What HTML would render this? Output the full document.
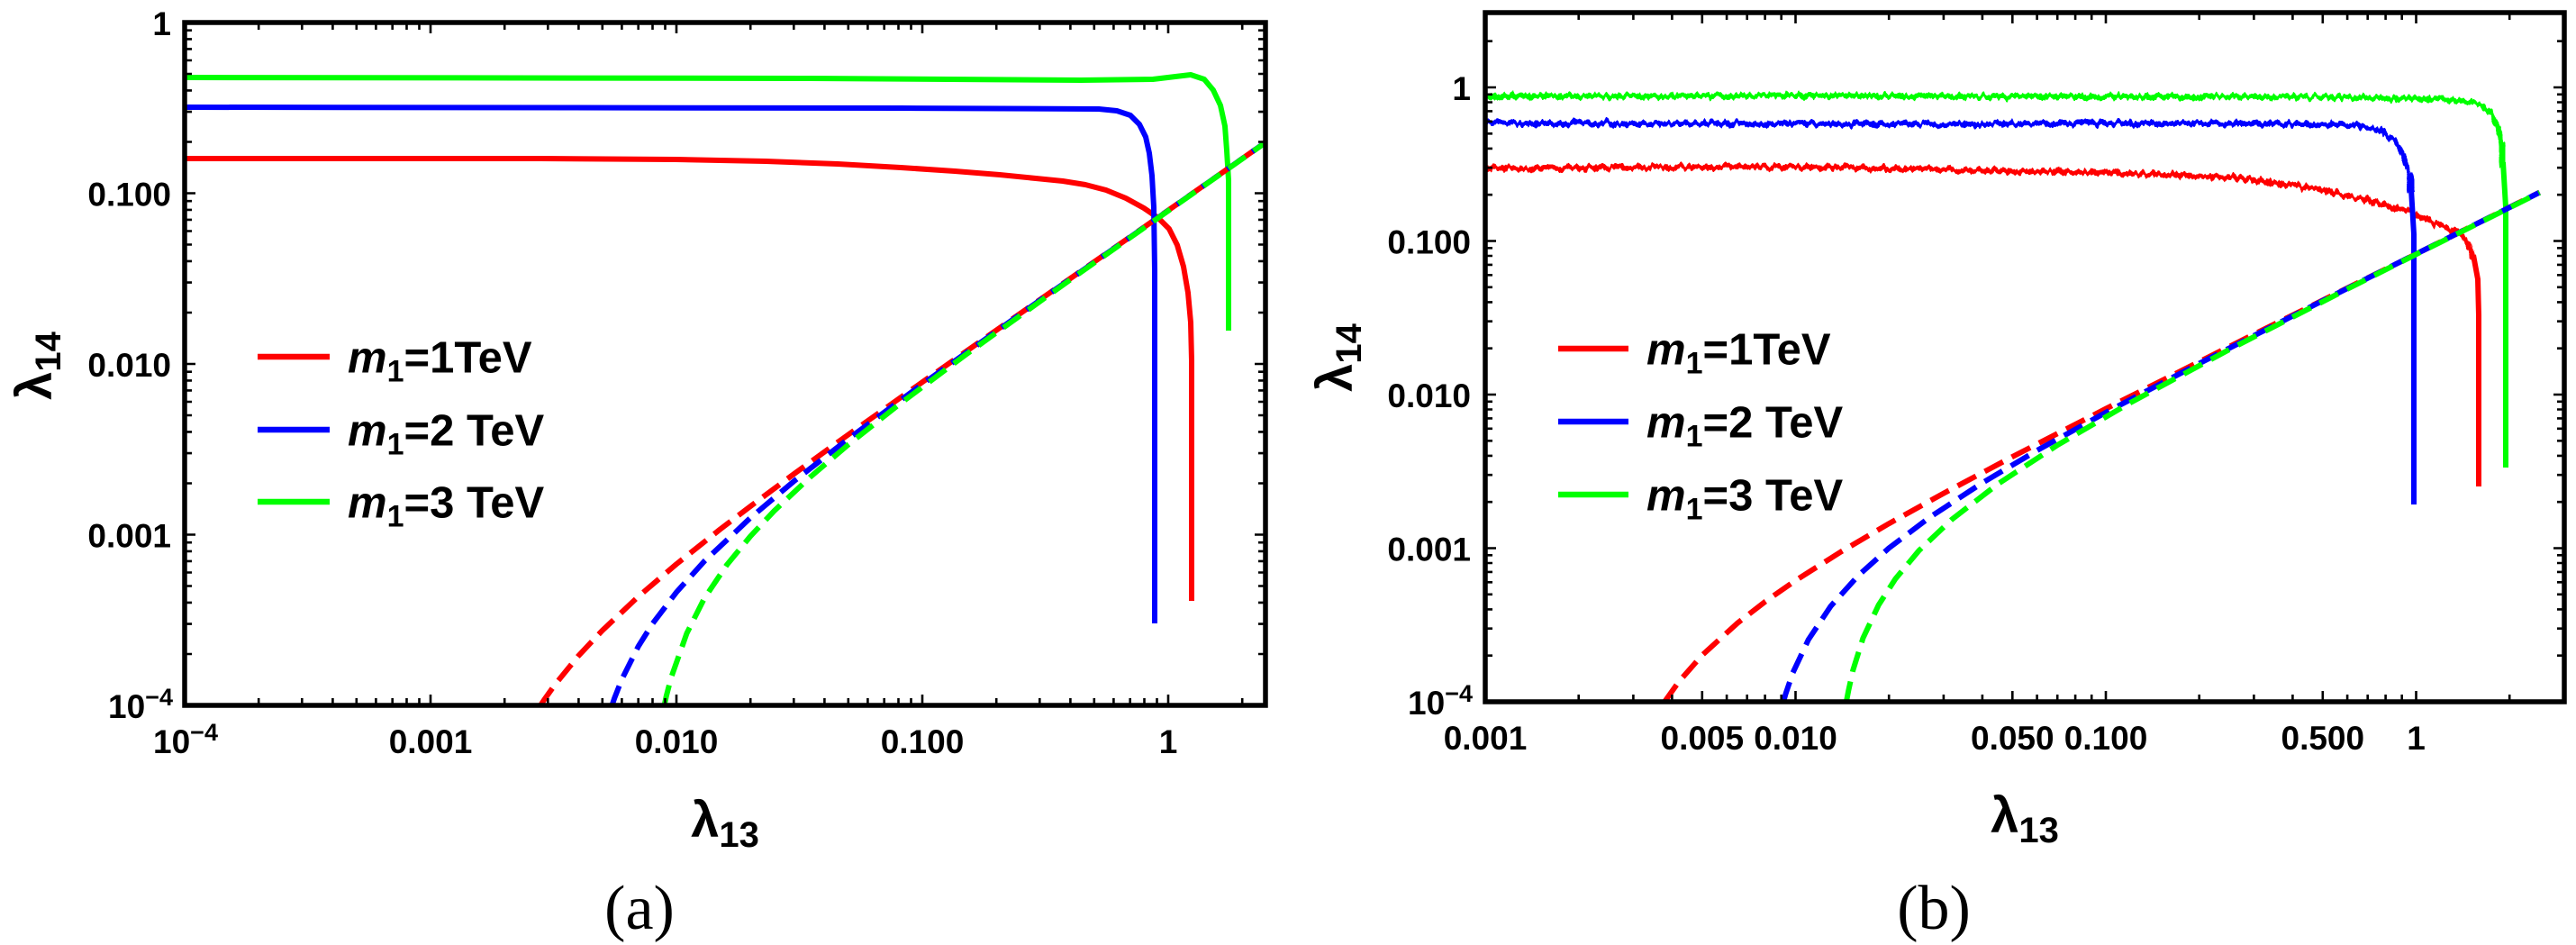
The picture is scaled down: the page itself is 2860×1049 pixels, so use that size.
<!DOCTYPE html>
<html>
<head>
<meta charset="utf-8">
<style>
html,body{margin:0;padding:0;background:#fff;}
svg{display:block;}
text{font-family:"Liberation Sans",Arial,sans-serif;font-weight:bold;fill:#000;}
.serif{font-family:"Liberation Serif","Times New Roman",serif;font-weight:normal;}
</style>
</head>
<body>
<svg xmlns="http://www.w3.org/2000/svg" xmlns:xlink="http://www.w3.org/1999/xlink" width="2860" height="1049" viewBox="0 0 2860 1049">
<defs>
  <clipPath id="clipL"><rect x="205" y="25" width="1200" height="758"/></clipPath>
  <clipPath id="clipR"><rect x="1649" y="14" width="1198" height="765"/></clipPath>
  <filter id="jit" filterUnits="userSpaceOnUse" x="1640" y="80" width="1190" height="240">
    <feTurbulence type="fractalNoise" baseFrequency="0.22 0.04" numOctaves="2" seed="7" result="t"/>
    <feDisplacementMap in="SourceGraphic" in2="t" scale="10" xChannelSelector="R" yChannelSelector="G"/>
  </filter>

  <path id="lxt" stroke="#000" stroke-width="2.6" fill="none" d="
    M478,783v-12 M751,783v-12 M1024,783v-12 M1297,783v-12
    M287.2,783v-8 M335.3,783v-8 M369.4,783v-8 M395.8,783v-8 M417.4,783v-8 M435.7,783v-8 M451.5,783v-8 M465.5,783v-8
    M560.2,783v-8 M608.3,783v-8 M642.4,783v-8 M668.8,783v-8 M690.4,783v-8 M708.7,783v-8 M724.5,783v-8 M738.5,783v-8
    M833.2,783v-8 M881.3,783v-8 M915.4,783v-8 M941.8,783v-8 M963.4,783v-8 M981.7,783v-8 M997.5,783v-8 M1011.5,783v-8
    M1106.2,783v-8 M1154.3,783v-8 M1188.4,783v-8 M1214.8,783v-8 M1236.4,783v-8 M1254.7,783v-8 M1270.5,783v-8 M1284.5,783v-8
    M1379.2,783v-8"/>
  <path id="lyt" stroke="#000" stroke-width="2.6" fill="none" d="
    M205,593.5h12 M205,404h12 M205,214.5h12
    M205,726h8 M205,692.6h8 M205,668.9h8 M205,650.5h8 M205,635.5h8 M205,622.9h8 M205,611.9h8 M205,602.2h8
    M205,536.5h8 M205,503.1h8 M205,479.4h8 M205,461h8 M205,446h8 M205,433.4h8 M205,422.4h8 M205,412.7h8
    M205,347h8 M205,313.6h8 M205,289.9h8 M205,271.5h8 M205,256.5h8 M205,243.9h8 M205,232.9h8 M205,223.2h8
    M205,157.5h8 M205,124.1h8 M205,100.4h8 M205,82h8 M205,67h8 M205,54.4h8 M205,43.4h8 M205,33.7h8"/>

  <path id="rxt" stroke="#000" stroke-width="2.6" fill="none" d="
    M1889.8,779v-12 M1993.5,779v-12 M2234.3,779v-12 M2338,779v-12 M2578.8,779v-12 M2682.5,779v-12
    M1752.7,779v-8 M1813.4,779v-8 M1856.4,779v-8 M1917.1,779v-8 M1939.7,779v-8 M1959.6,779v-8 M1977.7,779v-8
    M2097.2,779v-8 M2157.9,779v-8 M2200.9,779v-8 M2261.6,779v-8 M2284.2,779v-8 M2304.1,779v-8 M2322.2,779v-8
    M2441.7,779v-8 M2502.4,779v-8 M2545.4,779v-8 M2606.1,779v-8 M2628.7,779v-8 M2648.6,779v-8 M2666.7,779v-8
    M2786.2,779v-8"/>
  <path id="ryt" stroke="#000" stroke-width="2.6" fill="none" d="
    M1649,608.5h12 M1649,438h12 M1649,267.5h12 M1649,97h12
    M1649,727.7h8 M1649,697.7h8 M1649,676.4h8 M1649,659.8h8 M1649,646.3h8 M1649,634.9h8 M1649,625h8 M1649,616.3h8
    M1649,557.2h8 M1649,527.2h8 M1649,505.9h8 M1649,489.3h8 M1649,475.8h8 M1649,464.4h8 M1649,454.5h8 M1649,445.8h8
    M1649,386.7h8 M1649,356.7h8 M1649,335.4h8 M1649,318.8h8 M1649,305.3h8 M1649,293.9h8 M1649,284h8 M1649,275.3h8
    M1649,216.2h8 M1649,186.2h8 M1649,164.9h8 M1649,148.3h8 M1649,134.8h8 M1649,123.4h8 M1649,113.5h8 M1649,104.8h8
    M1649,45.7h8"/>
</defs>

<rect x="0" y="0" width="2860" height="1049" fill="#fff"/>

<!-- ================= LEFT PLOT ================= -->
<g clip-path="url(#clipL)" fill="none" stroke-width="6" stroke-linejoin="round">
  <path stroke="#ff0000" d="M205,176 L600,176 L750,177 L850,179 L930,182 L1000,186 L1060,190 L1110,194 L1150,198 L1180,201 L1205,205 L1228,211 L1250,220 L1270,231 L1286,242 L1298,254 L1307,272 L1314,296 L1319,325 L1322,358 L1323,400 L1323,667"/>
  <path stroke="#0000ff" d="M205,119 L1000,120 L1220,121 L1240,123 L1255,128 L1265,138 L1272,152 L1276,170 L1279,195 L1281,230 L1282,300 L1282,692"/>
  <path stroke="#00ff00" d="M205,86 L900,87 L1200,89 L1280,88 L1305,85 L1322,83 L1337,88 L1347,100 L1355,117 L1360,140 L1362,167 L1364,200 L1364,367"/>
  <g stroke-dasharray="23 11">
    <path stroke="#ff0000" d="M600.1,783 L604.2,776.7 L615.9,760.3 L642.3,727.9 L668.8,699.8 L708.7,662.2 L751,626.2 L799.1,587.9 L833.2,562 L881.2,526.3 L941.8,482.5 L1024,424.2 L1154.2,332.9 L1297,233.5 L1405.1,158"/>
    <path stroke="#0000ff" d="M679.5,783 L682.2,775 L690.4,754.1 L708.7,717.5 L724.5,692.3 L751,657.4 L782,623 L833.2,574.8 L881.2,534.4 L941.8,487.2 L1024,426.4 L1154.2,333.6 L1297,233.7 L1405.1,158"/>
    <path stroke="#00ff00" d="M737.6,783 L739.8,772.6 L745.1,752.3 L762.5,703 L782,664.2 L806.7,627.4 L833.2,595.2 L859.6,567.1 L899.5,529.6 L941.8,493.6 L997.5,449.5 L1072.1,393.8 L1188.4,310.4 L1297,234 L1405.1,158.2"/>
  </g>
</g>

<use href="#lxt" xlink:href="#lxt"/>
<use href="#lxt" xlink:href="#lxt" transform="translate(0,808) scale(1,-1)"/>
<use href="#lyt" xlink:href="#lyt"/>
<use href="#lyt" xlink:href="#lyt" transform="translate(1610,0) scale(-1,1)"/>
<rect x="205" y="25" width="1200" height="758" fill="none" stroke="#000" stroke-width="5.5"/>

<g stroke-width="6.5">
  <line x1="286" y1="396" x2="366" y2="396" stroke="#ff0000"/>
  <line x1="286" y1="477" x2="366" y2="477" stroke="#0000ff"/>
  <line x1="286" y1="557" x2="366" y2="557" stroke="#00ff00"/>
</g>
<g font-size="49">
  <text x="386" y="413.5"><tspan font-style="italic">m</tspan><tspan font-size="34" dy="10">1</tspan><tspan dy="-10">=1TeV</tspan></text>
  <text x="386" y="494.5"><tspan font-style="italic">m</tspan><tspan font-size="34" dy="10">1</tspan><tspan dy="-10">=2 TeV</tspan></text>
  <text x="386" y="574.5"><tspan font-style="italic">m</tspan><tspan font-size="34" dy="10">1</tspan><tspan dy="-10">=3 TeV</tspan></text>
</g>

<g font-size="37" text-anchor="end">
  <text x="190" y="39">1</text>
  <text x="190" y="228.5">0.100</text>
  <text x="190" y="418">0.010</text>
  <text x="190" y="607.5">0.001</text>
  <text x="192" y="797">10<tspan font-size="27" dy="-14">−4</tspan></text>
</g>
<g font-size="37" text-anchor="middle">
  <text x="206" y="836">10<tspan font-size="27" dy="-14">−4</tspan></text>
  <text x="478" y="836">0.001</text>
  <text x="751" y="836">0.010</text>
  <text x="1024" y="836">0.100</text>
  <text x="1297" y="836">1</text>
</g>

<text x="805" y="929" font-size="56" text-anchor="middle">λ<tspan font-size="40" dy="11">13</tspan></text>
<text transform="translate(57,406) rotate(-90)" font-size="56" text-anchor="middle">λ<tspan font-size="40" dy="10">14</tspan></text>
<text class="serif" x="710" y="1031" font-size="70" text-anchor="middle">(a)</text>

<!-- ================= RIGHT PLOT ================= -->
<g clip-path="url(#clipR)" fill="none" stroke-width="6" stroke-linejoin="round">
  <g filter="url(#jit)">
    <path stroke="#ff0000" d="M1649,187 L1800,186 L1980,185 L2150,188 L2350,192 L2480,197 L2550,206 L2617,219 L2667,233 L2700,246 L2727,257 L2740,270 L2747,287"/>
    <path stroke="#0000ff" d="M1649,137 L1900,137 L2100,138 L2300,137 L2500,137 L2600,138 L2627,140 L2645,146 L2658,156 L2668,172 L2674,192 L2678,215"/>
    <path stroke="#00ff00" d="M1649,106 L1800,107 L2000,106 L2200,107 L2400,107 L2600,108 L2700,110 L2740,113 L2755,117 L2765,124 L2772,138 L2777,158 L2780,185"/>
  </g>
  <path stroke="#ff0000" d="M2746,283 L2751,310 L2752,350 L2752,540"/>
  <path stroke="#0000ff" d="M2677,210 L2680,260 L2680,560"/>
  <path stroke="#00ff00" d="M2779,180 L2782,230 L2782,519"/>
  <g stroke-dasharray="23 11">
    <path stroke="#ff0000" d="M1848.1,779 L1863.7,757 L1889.8,727.3 L1929.1,691.6 L1960.1,667.6 L1993.5,644.4 L2043.9,612.5 L2097.2,581.2 L2157.9,547.6 L2234.3,507 L2338,453.7 L2502.3,371.1 L2683.5,281.5 L2819.6,213.5"/>
    <path stroke="#0000ff" d="M1980.1,779 L1982.6,770 L1990.5,746.8 L2007.8,710 L2032.7,672.7 L2063.8,638.3 L2097.2,608.4 L2142.1,574.5 L2200.9,536 L2261.6,500.1 L2338,457.9 L2441.7,403.5 L2578.8,333.8 L2682.5,281.9 L2819.6,213.6"/>
    <path stroke="#00ff00" d="M2049.9,779 L2052.3,766.5 L2057.2,744.2 L2068.4,708.4 L2085.6,671.8 L2104.5,642.4 L2130.6,611.1 L2167.5,576.2 L2218.5,537 L2284.6,493.9 L2365.3,447 L2475.1,388 L2606.1,320.8 L2682.5,282.3 L2819.6,213.9"/>
  </g>
</g>

<use href="#rxt" xlink:href="#rxt"/>
<use href="#rxt" xlink:href="#rxt" transform="translate(0,793) scale(1,-1)"/>
<use href="#ryt" xlink:href="#ryt"/>
<use href="#ryt" xlink:href="#ryt" transform="translate(4496,0) scale(-1,1)"/>
<rect x="1649" y="14" width="1198" height="765" fill="none" stroke="#000" stroke-width="5.5"/>

<g stroke-width="6.5">
  <line x1="1730" y1="387" x2="1808" y2="387" stroke="#ff0000"/>
  <line x1="1730" y1="468" x2="1808" y2="468" stroke="#0000ff"/>
  <line x1="1730" y1="549" x2="1808" y2="549" stroke="#00ff00"/>
</g>
<g font-size="49">
  <text x="1828" y="404.5"><tspan font-style="italic">m</tspan><tspan font-size="34" dy="10">1</tspan><tspan dy="-10">=1TeV</tspan></text>
  <text x="1828" y="485.5"><tspan font-style="italic">m</tspan><tspan font-size="34" dy="10">1</tspan><tspan dy="-10">=2 TeV</tspan></text>
  <text x="1828" y="566.5"><tspan font-style="italic">m</tspan><tspan font-size="34" dy="10">1</tspan><tspan dy="-10">=3 TeV</tspan></text>
</g>

<g font-size="37" text-anchor="end">
  <text x="1633" y="111">1</text>
  <text x="1633" y="281.5">0.100</text>
  <text x="1633" y="452">0.010</text>
  <text x="1633" y="622.5">0.001</text>
  <text x="1635" y="793">10<tspan font-size="27" dy="-14">−4</tspan></text>
</g>
<g font-size="37" text-anchor="middle">
  <text x="1649" y="832">0.001</text>
  <text x="1889.8" y="832">0.005</text>
  <text x="1993.5" y="832">0.010</text>
  <text x="2234.3" y="832">0.050</text>
  <text x="2338" y="832">0.100</text>
  <text x="2578.8" y="832">0.500</text>
  <text x="2682.5" y="832">1</text>
</g>

<text x="2248" y="924" font-size="56" text-anchor="middle">λ<tspan font-size="40" dy="11">13</tspan></text>
<text transform="translate(1501,397) rotate(-90)" font-size="56" text-anchor="middle">λ<tspan font-size="40" dy="10">14</tspan></text>
<text class="serif" x="2147" y="1031" font-size="70" text-anchor="middle">(b)</text>

</svg>
</body>
</html>
